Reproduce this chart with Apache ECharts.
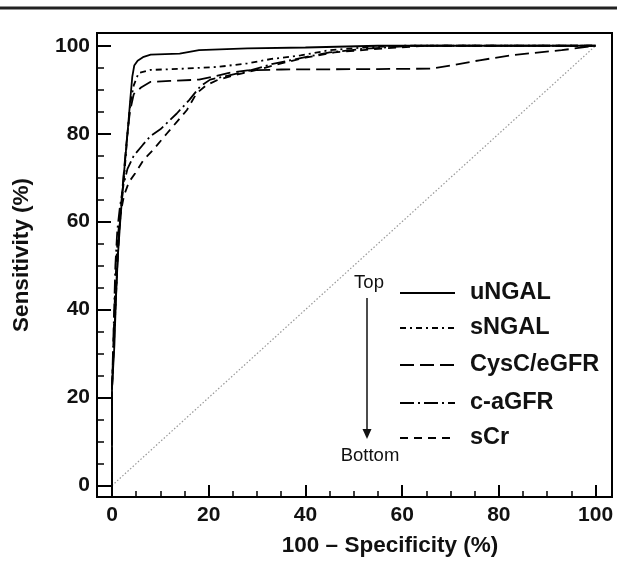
<!DOCTYPE html>
<html>
<head>
<meta charset="utf-8">
<script src="https://cdn.jsdelivr.net/npm/echarts@6/dist/echarts.min.js"></script>
<style>
html,body{margin:0;padding:0;background:#fff;}
#chart{width:617px;height:563px;}
</style>
</head>
<body>
<div id="chart"></div>
<script>
// ---- data ----
const seriesNames = ['uNGAL', 'sNGAL', 'CysC/eGFR', 'c-aGFR', 'sCr'];
const majorTicks = [0, 20, 40, 60, 80, 100];
const minorTicks = [0, 5, 10, 15, 20, 25, 30, 35, 40, 45, 50, 55, 60, 65, 70, 75, 80, 85, 90, 95, 100];
const uNGAL = [[0,0],[0,22],[0.5,32],[0.8,42],[1.2,52],[1.7,60],[2.4,70],[3.2,80],[3.8,88],[4.2,93],[4.6,95.5],[5.3,96.6],[6.4,97.4],[8,98],[14,98.2],[18,99],[28,99.4],[40,99.6],[55,100],[100,100]];
const sNGAL = [[0,0],[0,22],[0.5,35],[0.9,45],[1.3,55],[1.8,62],[2.5,70],[3.2,80],[3.8,87],[4.5,91],[5.5,93.8],[8,94.5],[15,94.8],[22,95.2],[28,96],[33,97],[39,97.8],[45,99],[52,99.6],[60,100],[100,100]];
const CysC = [[0,0],[0,22],[0.5,35],[1,48],[1.5,58],[2.2,68],[3,78],[3.7,85],[4.5,89],[6,90.5],[8,91.8],[12,92],[18,92.3],[21,93],[24,93.8],[28,94.4],[35,94.6],[55,94.7],[66,94.8],[70,95.5],[76,96.7],[83,97.9],[93,99],[100,100]];
const caGFR = [[0,0],[0,22],[0.4,38],[0.7,50],[1.1,58],[1.6,63],[2.3,68],[3.2,72],[4.5,75],[6.4,77.5],[8,79.5],[10,81],[13.4,84.6],[16,87.7],[18.2,90.7],[20.3,92.3],[24,93.2],[28,94.2],[33,95.8],[39,97.2],[45,98.5],[52,99.3],[62,100],[100,100]];
const sCr = [[0,0],[0,22],[0.4,36],[0.7,46],[1.1,55],[1.6,61],[2.5,66],[3.5,69],[4.8,71],[6.5,74],[8.5,76.3],[11.3,80],[13.5,82.8],[15.5,85.4],[17.5,89.2],[19.5,91],[22,92.3],[26,93.5],[30,94.5],[35,96],[40,97.3],[46,98.5],[55,99.3],[65,100],[100,100]];
const diagonal = [[0,0],[100,100]];

// ---- styles ----
const dashes = {
  'uNGAL': 'solid',
  'sNGAL': [6, 4, 2, 4],
  'CysC/eGFR': [14, 6],
  'c-aGFR': [14, 4, 2, 4],
  'sCr': [8, 6]
};
const dataByName = {'uNGAL': uNGAL, 'sNGAL': sNGAL, 'CysC/eGFR': CysC, 'c-aGFR': caGFR, 'sCr': sCr};
const FONT = '"Liberation Sans", Arial, sans-serif';

const chart = echarts.init(document.getElementById('chart'), null, {renderer: 'canvas'});

const xMin = -3.1, xMax = 103.4, yMin = -2.6, yMax = 102.9;

function axisBase(extra) {
  return Object.assign({
    type: 'value', min: 0, max: 100,
    splitLine: {show: false},
    axisLine: {show: true, onZero: false, lineStyle: {color: '#000', width: 2}}
  }, extra);
}

const series = seriesNames.map(n => ({
  name: n, type: 'line', data: dataByName[n], symbol: 'none', smooth: false,
  lineStyle: {color: '#000', width: 1.8, type: dashes[n]},
  z: 3
}));
series.push({
  name: 'ref', type: 'line', data: diagonal, symbol: 'none',
  lineStyle: {color: '#999', width: 1.2, type: [1.5, 2]}, z: 2
});

// legend decoration
const legendY = [293, 328, 365, 403, 438];
const graphics = [
  {type: 'line', shape: {x1: 0, y1: 8, x2: 617, y2: 8}, style: {stroke: '#222', lineWidth: 3}},
  {type: 'text', x: 22, y: 255, rotation: Math.PI / 2,
   style: {text: 'Sensitivity (%)', font: 'bold 22.5px ' + FONT, fill: '#111', textAlign: 'center', textVerticalAlign: 'middle'}},
  {type: 'text', x: 390, y: 546,
   style: {text: '100 \u2013 Specificity (%)', font: 'bold 22.5px ' + FONT, fill: '#111', textAlign: 'center', textVerticalAlign: 'middle'}},
  {type: 'text', x: 369, y: 283,
   style: {text: 'Top', font: '18.5px ' + FONT, fill: '#111', textAlign: 'center', textVerticalAlign: 'middle'}},
  {type: 'text', x: 370, y: 456,
   style: {text: 'Bottom', font: '18.5px ' + FONT, fill: '#111', textAlign: 'center', textVerticalAlign: 'middle'}},
  {type: 'line', shape: {x1: 367, y1: 298, x2: 367, y2: 432}, style: {stroke: '#111', lineWidth: 1.5}},
  {type: 'polygon', shape: {points: [[362.5, 429], [371.5, 429], [367, 439]]}, style: {fill: '#111'}}
];
seriesNames.forEach((n, i) => {
  graphics.push({type: 'line', shape: {x1: 400, y1: legendY[i], x2: 455, y2: legendY[i]},
    style: {stroke: '#000', lineWidth: 1.8, lineDash: dashes[n] === 'solid' ? null : dashes[n]}});
  graphics.push({type: 'text', x: 470, y: legendY[i],
    style: {text: n, font: 'bold 23.5px ' + FONT, fill: '#111', textAlign: 'left', textVerticalAlign: 'middle'}});
});

chart.setOption({
  animation: false,
  backgroundColor: '#fff',
  grid: {left: 97, right: 5, top: 33, bottom: 66, show: true, borderColor: '#000', borderWidth: 2, containLabel: false},
  xAxis: [
    axisBase({min: xMin, max: xMax, position: 'bottom',
      axisTick: {show: true, inside: true, length: 12, customValues: majorTicks, lineStyle: {color: '#000', width: 2}},
      axisLabel: {show: true, margin: 8, customValues: majorTicks, color: '#111', fontFamily: FONT, fontWeight: 'bold', fontSize: 21}}),
    axisBase({min: xMin, max: xMax, position: 'bottom',
      axisLine: {show: false, onZero: false},
      axisTick: {show: true, inside: true, length: 6, customValues: minorTicks, lineStyle: {color: '#000', width: 1.5}},
      axisLabel: {show: false}})
  ],
  yAxis: [
    axisBase({min: yMin, max: yMax, position: 'left',
      axisTick: {show: true, inside: true, length: 14, customValues: majorTicks, lineStyle: {color: '#000', width: 2}},
      axisLabel: {show: true, margin: 7, customValues: majorTicks, color: '#111', fontFamily: FONT, fontWeight: 'bold', fontSize: 21}}),
    axisBase({min: yMin, max: yMax, position: 'left',
      axisLine: {show: false, onZero: false},
      axisTick: {show: true, inside: true, length: 7, customValues: minorTicks, lineStyle: {color: '#000', width: 1.5}},
      axisLabel: {show: false}})
  ],
  series: series,
  graphic: graphics
});
</script>
</body>
</html>
